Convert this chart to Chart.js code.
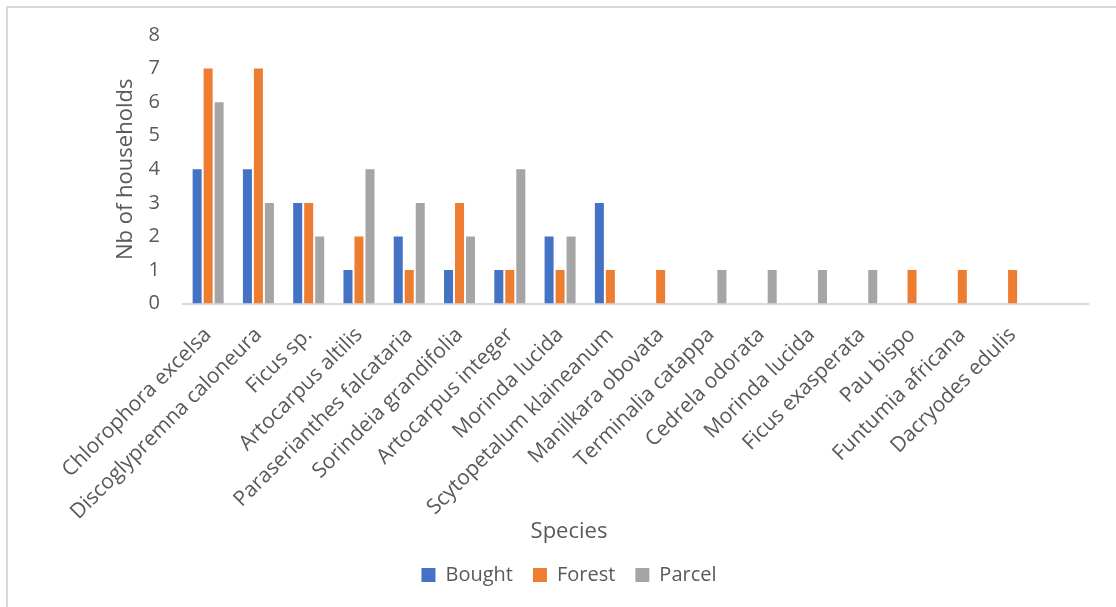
<!DOCTYPE html>
<html>
<head>
<meta charset="utf-8">
<script src="https://cdn.jsdelivr.net/npm/chart.js@4.4.1/dist/chart.umd.min.js"></script>
<style>
    html, body { margin: 0; padding: 0; background: #fff; overflow: hidden; }
    #frame { position: absolute; left: 6px; top: 6px; width: 1200px; height: 700px; border: 2px solid #d9d9d9; }
    #wrap { position: absolute; left: 0; top: 0; width: 1138px; height: 607px; }
</style>
</head>
<body>
<div id="frame"></div>
<div id="wrap"><canvas id="myChart"></canvas></div>
<script>
// Species (the last slot is empty in the original chart)
var species = [
    'Chlorophora excelsa', 'Discoglypremna caloneura', 'Ficus sp.', 'Artocarpus altilis',
    'Paraserianthes falcataria', 'Sorindeia grandifolia', 'Artocarpus integer', 'Morinda lucida',
    'Scytopetalum klaineanum', 'Manilkara obovata', 'Terminalia catappa', 'Cedrela odorata',
    'Morinda lucida', 'Ficus exasperata', 'Pau bispo', 'Funtumia africana', 'Dacryodes edulis', ''
];

// Number of households per source
var bought = [4, 4, 3, 1, 2, 1, 1, 2, 3, 0, 0, 0, 0, 0, 0, 0, 0, null];
var forest = [7, 7, 3, 2, 1, 3, 1, 1, 1, 1, 0, 0, 0, 0, 1, 1, 1, null];
var parcel = [6, 3, 2, 4, 3, 2, 4, 2, 0, 0, 1, 1, 1, 1, 0, 0, 0, null];

var yTicks = [0, 1, 2, 3, 4, 5, 6, 7, 8];

var textColor = '#595959';
var fontFamily = 'Open Sans';

var ctx = document.getElementById('myChart').getContext('2d');
var speciesChart = new Chart(ctx, {
    type: 'bar',
    data: {
        labels: species,
        datasets: [
            { label: 'Bought', data: bought, backgroundColor: '#4472C4' },
            { label: 'Forest', data: forest, backgroundColor: '#ED7D31' },
            { label: 'Parcel', data: parcel, backgroundColor: '#A5A5A5' }
        ]
    },
    options: {
        responsive: true,
        maintainAspectRatio: false,
        animation: false,
        layout: {
            padding: { left: 50, right: 50, top: 34, bottom: 12 }
        },
        datasets: {
            bar: { categoryPercentage: 0.656, barPercentage: 0.82 }
        },
        plugins: {
            legend: {
                position: 'bottom',
                labels: {
                    boxWidth: 14,
                    boxHeight: 14,
                    padding: 20,
                    color: textColor,
                    font: { family: fontFamily, size: 20 }
                }
            },
            title: {
                display: true,
                position: 'bottom',
                weight: 500,
                text: 'Species',
                color: textColor,
                // pulls the title up so it sits close to the rotated labels
                padding: { top: -7, bottom: 0 },
                font: { family: fontFamily, size: 22, weight: 'normal' }
            },
            tooltip: { enabled: false }
        },
        scales: {
            x: {
                afterFit: function (scale) {
                    scale.height = 222;
                },
                grid: { display: false, drawTicks: false },
                border: { color: '#d9d9d9', width: 2 },
                ticks: {
                    autoSkip: false,
                    minRotation: 45,
                    maxRotation: 45,
                    padding: 19,
                    color: textColor,
                    font: { family: fontFamily, size: 21 }
                }
            },
            y: {
                min: 0,
                max: 8,
                afterBuildTicks: function (scale) {
                    scale.ticks = yTicks.map(v => ({ value: v }));
                },
                afterFit: function (scale) {
                    scale.width = 133;
                },
                grid: { display: false, drawTicks: false },
                border: { display: false },
                ticks: {
                    padding: 23,
                    color: textColor,
                    font: { family: fontFamily, size: 20 }
                },
                title: {
                    display: true,
                    text: 'Nb of households',
                    color: textColor,
                    padding: { top: 63, bottom: 4 },
                    font: { family: fontFamily, size: 22 }
                }
            }
        }
    }
});
</script>
</body>
</html>
